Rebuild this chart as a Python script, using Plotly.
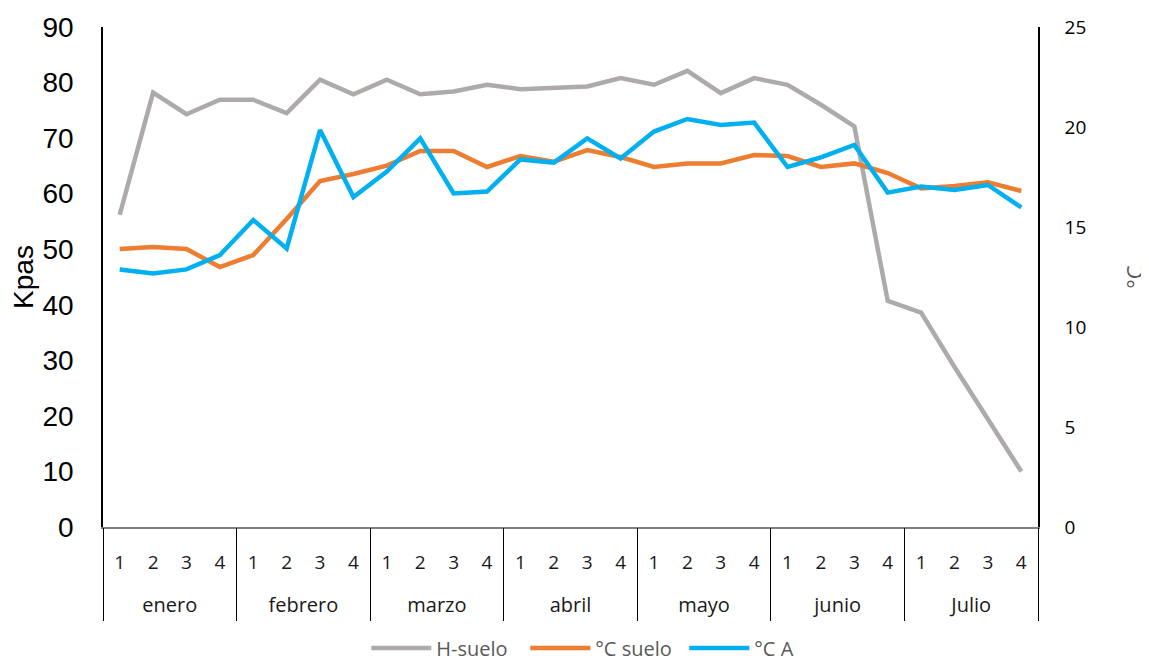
import plotly.graph_objects as go

months = ["enero", "febrero", "marzo", "abril", "mayo", "junio", "Julio"]
weeks = ["1", "2", "3", "4"]

h_suelo = [56.2, 78.2, 74.3, 76.9, 76.9, 74.5, 80.5, 77.9, 80.5, 77.9, 78.4, 79.6, 78.8, 79.0,
           79.3, 80.8, 79.6, 82.1, 78.1, 80.8, 79.6, 76.0, 72.1, 40.7, 38.6, 28.8, 19.3, 10.0]
c_suelo = [13.9, 14.0, 13.9, 13.0, 13.6, 15.4, 17.3, 17.65, 18.07, 18.8, 18.8, 18.0, 18.55, 18.27,
           18.85, 18.5, 18.0, 18.18, 18.18, 18.6, 18.55, 18.0, 18.18, 17.7, 16.93, 17.05, 17.23, 16.8]
c_a = [12.88, 12.68, 12.88, 13.6, 15.35, 13.93, 19.85, 16.5, 17.77, 19.43, 16.68, 16.77, 18.38, 18.22,
       19.43, 18.43, 19.77, 20.4, 20.1, 20.22, 18.0, 18.48, 19.1, 16.72, 17.02, 16.85, 17.1, 15.98]

nw = len(weeks)
n = len(months) * nw
xi = list(range(n))
week_text = [w for _ in months for w in weeks]
month_pos = [i * nw + (nw - 1) / 2 for i in range(len(months))]
divider_pos = [i * nw - 0.5 for i in range(len(months) + 1)]
xr = [-0.5, n - 0.5]

cal = "Open Sans, Noto Sans, sans-serif"
ari = "Liberation Sans, Arial, sans-serif"
clear = "rgba(0,0,0,0)"

fig = go.Figure()
fig.add_trace(go.Scatter(x=xi, y=h_suelo, name="H-suelo", mode="lines",
                         line=dict(color="#AEAAAA", width=4.5)))
fig.add_trace(go.Scatter(x=xi, y=c_suelo, name="°C suelo", mode="lines", yaxis="y2",
                         line=dict(color="#ED7D31", width=4.5)))
fig.add_trace(go.Scatter(x=xi, y=c_a, name="°C A", mode="lines", yaxis="y2",
                         line=dict(color="#00B0F0", width=4.5)))
# invisible carriers so the month-label axis and the divider axis are drawn
for ax in ("x2", "x3"):
    fig.add_trace(go.Scatter(x=xi, y=h_suelo, xaxis=ax, yaxis="y", mode="lines",
                             line=dict(color=clear, width=0), showlegend=False,
                             hoverinfo="skip"))

fig.update_layout(
    width=1149, height=662,
    margin=dict(l=95, r=119, t=19, b=143, autoexpand=False),
    paper_bgcolor="white", plot_bgcolor="white",
    font=dict(family=cal, color="#000000"),
    xaxis=dict(range=xr, tickmode="array", tickvals=xi, ticktext=week_text,
               showline=True, linecolor="#808080", linewidth=1.5, showgrid=False,
               zeroline=False, ticks="", ticklabelstandoff=17, automargin=False,
               tickfont=dict(family=cal, size=19, color="#1a1a1a")),
    xaxis2=dict(range=xr, overlaying="x", anchor="y", side="bottom", tickmode="array",
                tickvals=month_pos, ticktext=months, showline=False, showgrid=False,
                zeroline=False, ticks="", ticklabelstandoff=64, automargin=False,
                tickfont=dict(family=cal, size=20, color="#1a1a1a")),
    xaxis3=dict(range=xr, overlaying="x", anchor="y", side="bottom", tickmode="array",
                tickvals=divider_pos, showticklabels=False, showline=False, showgrid=False,
                zeroline=False, ticks="outside", ticklen=93, tickwidth=1, tickcolor="#000000",
                automargin=False),
    yaxis=dict(range=[0, 90], dtick=10, showgrid=False, zeroline=False,
               showline=True, linecolor="#000000", linewidth=1.5,
               ticks="outside", ticklen=22, tickcolor=clear,
               automargin=False,
               tickfont=dict(family=ari, size=28, color="#000000"),
               title=dict(text="Kpas", font=dict(family=ari, size=28, color="#000000"),
                          standoff=19)),
    yaxis2=dict(range=[0, 25], dtick=5, overlaying="y", side="right", showgrid=False,
                zeroline=False, showline=True, linecolor="#000000", linewidth=1.5,
                ticks="outside", ticklen=21, tickcolor=clear,
                automargin=False,
                tickfont=dict(family=cal, size=19, color="#000000"),
                title=dict(text="°C", font=dict(family=cal, size=22, color="#595959"),
                           standoff=42)),
    legend=dict(orientation="h", x=0.2816, xanchor="left", y=-0.203, yanchor="top",
                itemwidth=60, entrywidth=84,
                font=dict(family=cal, size=20, color="#595959")),
    showlegend=True,
)

fig.write_html("out.html")
